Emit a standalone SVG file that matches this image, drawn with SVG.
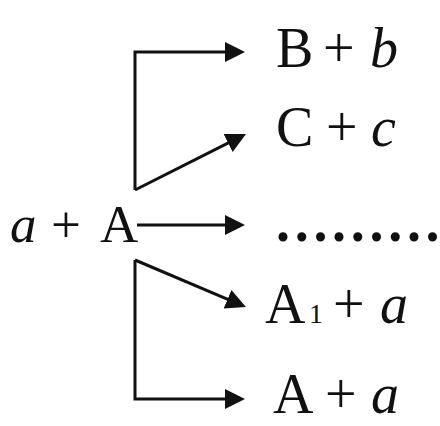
<svg xmlns="http://www.w3.org/2000/svg" width="440" height="426" viewBox="0 0 440 426">
<style>
.t{font-family:"Liberation Serif","Times New Roman",serif;font-size:56px;fill:#111}
.i{font-style:italic}
.c{fill:none;stroke:#111;stroke-width:3}
</style>
<defs>
<marker id="ah" markerUnits="userSpaceOnUse" markerWidth="22" markerHeight="22" refX="8" refY="10" orient="auto" viewBox="0 0 22 22">
<path d="M0,0 L20,10 L0,20 Z" fill="#111"/>
</marker>
</defs>
<rect width="440" height="426" fill="#fff"/>
<g id="connectors">
<path class="c" d="M135,190 V52 H233" marker-end="url(#ah)"/>
<path class="c" d="M135,190 L235.3,139.4" marker-end="url(#ah)"/>
<path class="c" d="M137,225 H233" marker-end="url(#ah)"/>
<path class="c" d="M135,260 L234.9,302.3" marker-end="url(#ah)"/>
<path class="c" d="M135,260 V399 H233" marker-end="url(#ah)"/>
</g>
<g id="source"><text class="t" style="font-size:53px" y="242"><tspan class="i" x="10">a</tspan><tspan x="51">+</tspan><tspan x="100">A</tspan></text></g>
<g id="bb"><text class="t" y="67"><tspan x="276">B</tspan><tspan x="323">+</tspan><tspan class="i" x="370">b</tspan></text></g>
<g id="cc"><text class="t" y="146"><tspan x="276">C</tspan><tspan x="326">+</tspan><tspan class="i" x="371">c</tspan></text></g>
<g id="dots"><text class="t" style="font-weight:bold" y="241" x="276 294.7 313.4 332.1 350.8 369.5 388.2 406.9 425.5">.........</text></g>
<g id="a1a"><text class="t" y="323"><tspan x="265">A</tspan><tspan x="309" style="font-size:28px">1</tspan><tspan x="333">+</tspan><tspan class="i" x="380">a</tspan></text></g>
<g id="aa"><text class="t" y="413"><tspan x="273">A</tspan><tspan x="325">+</tspan><tspan class="i" x="371">a</tspan></text></g>
</svg>
